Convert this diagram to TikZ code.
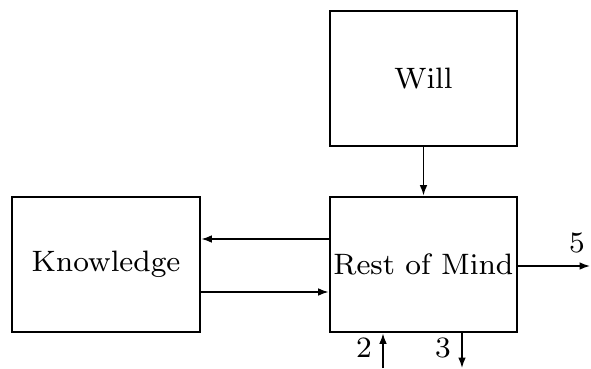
\documentclass[tikz,border=0pt]{standalone}
\usepackage{tikz}
\usetikzlibrary{arrows.meta,positioning}

\font\mindfont=cmr8 at 21pt

\tikzset{
  mindbox/.style={draw, line width=2pt, minimum width=4.675cm, minimum height=3.375cm, inner sep=0pt, font=\mindfont},
  flow/.style={line width=1.1pt, -{Latex[length=2.6mm,width=1.9mm]}},
  tag/.style={inner sep=0pt, font=\mindfont}
}

\begin{document}
\begin{tikzpicture}
\useasboundingbox (0,0) rectangle (14.775,9.2);

%boxes
\node[mindbox] (will) at (10.5875,7.2375) {Will};
\node[mindbox] (rest) at (10.5875,2.5875) {Rest of Mind};
\node[mindbox, minimum width=4.7cm] (know) at (2.65,2.5875) {Knowledge};

%Will to rest of mind
\draw[flow] (will.south) -- (rest.north);

%between knowledge and rest of mind
\draw[flow] (rest.west |- 0,3.225) -- (know.east |- 0,3.225);
\draw[flow] (know.east |- 0,1.9) -- (rest.west |- 0,1.9);

%outputs and inputs
\coordinate (out5) at (14.75,2.55);
\coordinate (in2) at (9.575,0);
\coordinate (out3) at (11.55,0);
\draw[flow] (rest.east |- out5) -- (out5);
\draw[flow] (in2) -- (in2 |- rest.south);
\draw[flow] (out3 |- rest.south) -- (out3);

\node[tag] (l5) at (14.425,3.125) {5};
\node[tag] (l2) at (9.1,0.5) {2};
\node[tag] (l3) at (11.075,0.5) {3};

\end{tikzpicture}
\end{document}
